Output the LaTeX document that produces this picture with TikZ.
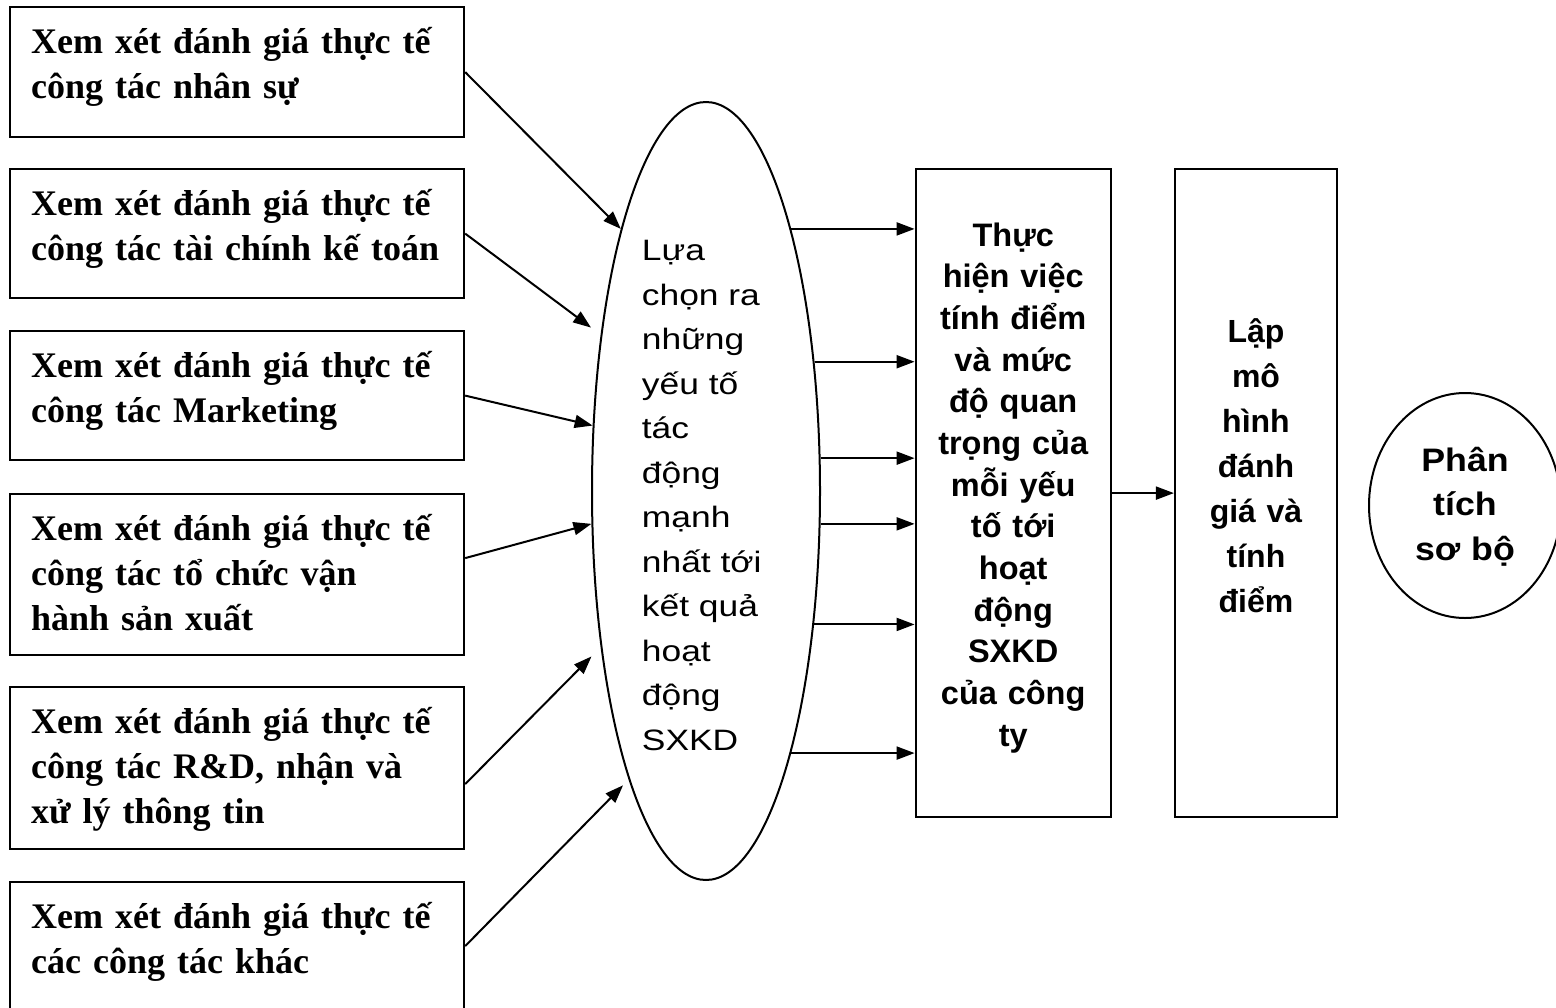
\documentclass[tikz,border=0pt]{standalone}
\usepackage{fontspec}
\setmainfont{Liberation Serif}
\newfontfamily\arialfont{Liberation Sans}
\newfontfamily\widearial[FakeStretch=1.2]{Liberation Sans}
\newfontfamily\roundarial[FakeStretch=1.1]{Liberation Sans}
\usetikzlibrary{arrows.meta, positioning, shapes.geometric}

\begin{document}
\begin{tikzpicture}[
  x=1pt, y=-1pt,
  congtac/.style={
    draw,
    line width=2.2pt,
    anchor=north west,
    minimum width=454pt,
    text width=412pt,
    inner xsep=21pt,
    inner ysep=0pt,
    align=left,
    text height=46.5pt,
    font=\fontsize{36}{45}\selectfont\bfseries
  },
  cot/.style={
    draw,
    line width=2.2pt,
    anchor=north,
    inner ysep=0pt,
    align=center,
    font=\arialfont\bfseries\fontsize{32.5}{41.67}\selectfont
  },
  vong/.style={
    ellipse,
    draw,
    line width=2pt,
    inner sep=0pt
  },
  arr/.style={
    -{Triangle[length=18pt,width=13pt]},
    line width=2pt
  }
]

\useasboundingbox (0,0) rectangle (1556,1007);
\clip (0,0) rectangle (1556,1007);

% Left boxes
\node [congtac, text depth=83.5pt] (nhansu) at (9,6)
  {Xem xét đánh giá thực tế\\công tác nhân sự};
\node [congtac, text depth=82.5pt] (taichinh) at (9,168)
  {Xem xét đánh giá thực tế\\\mbox{công tác tài chính kế toán}};
\node [congtac, text depth=82.5pt] (marketing) at (9,330)
  {Xem xét đánh giá thực tế\\công tác Marketing};
\node [congtac, text depth=114.5pt] (vanhanh) at (9,493)
  {Xem xét đánh giá thực tế\\công tác tổ chức vận\\hành sản xuất};
\node [congtac, text depth=115.5pt] (thongtin) at (9,686)
  {Xem xét đánh giá thực tế\\công tác R\&D, nhận và\\xử lý thông tin};
\node [congtac, text depth=114.5pt] (congtackhac) at (9,881)
  {Xem xét đánh giá thực tế\\các công tác khác};

% Ellipse
\node [vong, minimum width=228pt, minimum height=778pt] (luachon) at (706,491) {};
\node [anchor=north west, inner sep=0pt, text width=140pt, align=left,
  text height=0pt, font=\widearial\fontsize{29.5}{44.5}\selectfont]
  (luachontext) at (641.7,260.7)
  {Lựa\\chọn ra\\những\\yếu tố\\tác\\động\\mạnh\\nhất tới\\kết quả\\hoạt\\động\\SXKD};

% Right boxes
\node [cot, minimum width=195pt, text width=180pt, inner xsep=7.5pt,
  text height=77pt, text depth=571pt] (thuchien) at (1013.2,168)
  {Thực\\hiện việc\\tính điểm\\và mức\\độ quan\\trọng của\\mỗi yếu\\tố tới\\hoạt\\động\\SXKD\\của công\\ty};
\node [cot, minimum width=162pt, text width=150pt, inner xsep=6pt,
  text height=173pt, text depth=475pt,
  font=\arialfont\bfseries\fontsize{32}{45}\selectfont] (lapmohinh) at (1256,168)
  {Lập\\mô\\hình\\đánh\\giá và\\tính\\điểm};

% Circle
\node [vong, minimum width=192pt, minimum height=225pt, text width=110pt,
  align=center, text height=25pt, text depth=94pt,
  font=\roundarial\bfseries\fontsize{32.5}{44.5}\selectfont] (phantich) at (1465,505.5)
  {Phân\\tích\\sơ bộ};

% Arrows into the ellipse
\draw [arr] (nhansu.east) -- (luachon.108);
\draw [arr, shorten >=12pt] (taichinh.east) -- (luachon.124);
\draw [arr] (marketing.east) -- (luachon.150);
\draw [arr] ([yshift=16.5pt]vanhanh.east) -- (luachon.196);
\draw [arr, shorten >=13pt] ([yshift=-16pt]thongtin.east) -- (luachon.236);
\draw [arr, shorten >=8pt] ([yshift=16.5pt]congtackhac.east) -- (luachon.255);

% Arrows out of the ellipse
\foreach \ang in {72, 50, 16, 344, 309, 288}
  \draw [arr] (luachon.\ang) -- (luachon.\ang -| thuchien.west);

\draw [arr] (thuchien.east) -- (lapmohinh.west);

\end{tikzpicture}
\end{document}
